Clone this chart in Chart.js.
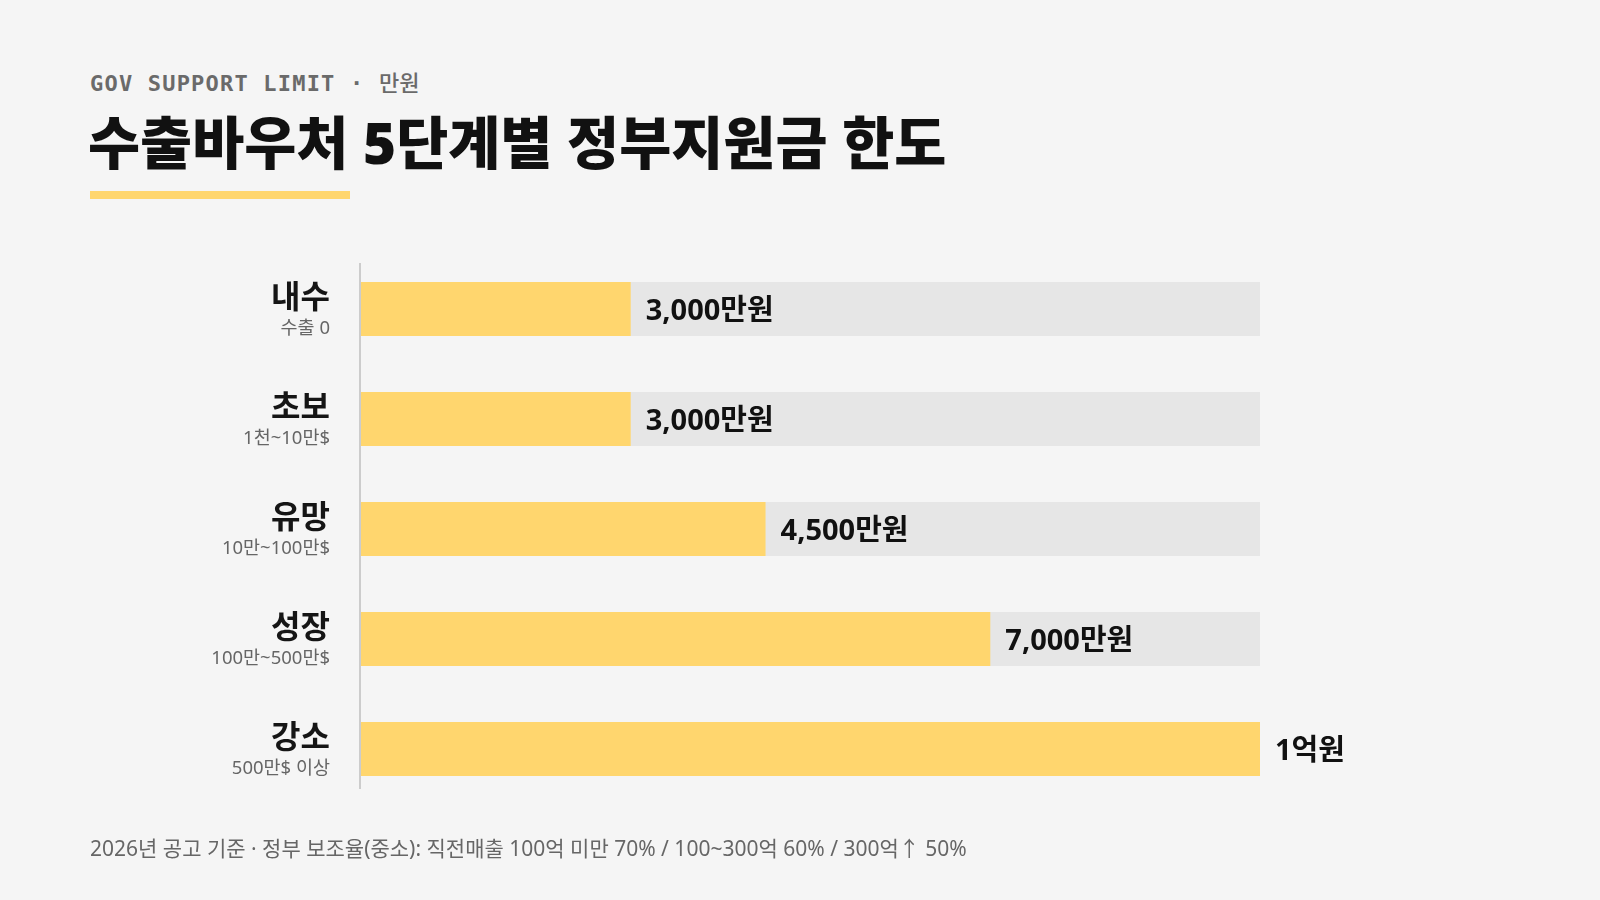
<!DOCTYPE html>
<html lang="ko">
<head>
<meta charset="utf-8">
<script src="https://cdn.jsdelivr.net/npm/chart.js@4.4.1/dist/chart.umd.min.js"></script>
<style>
  html, body { margin:0; padding:0; background:#f5f5f5; }
  body { width:1600px; height:900px; position:relative; overflow:hidden; font-family:"Noto Sans","Noto Sans CJK KR",sans-serif; }
  #eyebrow { position:absolute; left:90px; top:65px; font-family:"DejaVu Sans Mono","Noto Sans CJK KR",monospace; font-weight:700; font-size:22px; letter-spacing:1.2px; color:#6a6a6a; white-space:nowrap; }
  #eyebrow .kr { font-family:"Noto Sans CJK KR",sans-serif; font-weight:500; letter-spacing:0; }
  #title { position:absolute; left:88px; top:106px; font-family:"Noto Sans","Noto Sans CJK KR",sans-serif; font-weight:900; font-size:56.6px; letter-spacing:0; color:#111; white-space:nowrap; line-height:1.3; }
  #rule { position:absolute; left:90px; top:191px; width:260px; height:8px; background:#ffd66e; }
  #foot { position:absolute; left:90px; top:832px; font-family:"Noto Sans","Noto Sans CJK KR",sans-serif; font-size:21px; color:#666; white-space:nowrap; }
  #wrap { position:absolute; left:0; top:0; width:1600px; height:900px; }
</style>
</head>
<body>
<div id="eyebrow">GOV SUPPORT LIMIT · <span class="kr">만원</span></div>
<div id="title">수출바우처 5단계별 정부지원금 한도</div>
<div id="rule"></div>
<div id="wrap"><canvas id="c" width="1600" height="900"></canvas></div>
<div id="foot">2026년 공고 기준 · 정부 보조율(중소): 직전매출 100억 미만 70% / 100~300억 60% / 300억↑ 50%</div>
<script>
const categories = ['내수', '초보', '유망', '성장', '강소'];
const subLabels = ['수출 0', '1천~10만$', '10만~100만$', '100만~500만$', '500만$ 이상'];
const limits = [3000, 3000, 4500, 7000, 10000];
const valueLabels = ['3,000만원', '3,000만원', '4,500만원', '7,000만원', '1억원'];
const trackValues = [10000, 10000, 10000, 10000, 10000];
const axisMax = 10000;

const labelPlugin = {
  id: 'customLabels',
  afterDatasetsDraw(chart) {
    const ctx = chart.ctx;
    const y = chart.scales.y;
    const area = chart.chartArea;
    ctx.save();
    ctx.strokeStyle = '#cccccc';
    ctx.lineWidth = 2;
    ctx.beginPath();
    ctx.moveTo(area.left - 1, area.top + 9);
    ctx.lineTo(area.left - 1, area.bottom - 15);
    ctx.stroke();
    ctx.textAlign = 'right';
    ctx.textBaseline = 'middle';
    categories.forEach((c, i) => {
      const py = y.getPixelForValue(i);
      ctx.fillStyle = '#151515';
      ctx.font = '700 32px "Noto Sans CJK KR"';
      ctx.fillText(c, area.left - 31, py - 13);
      ctx.fillStyle = '#666666';
      ctx.font = '400 18.5px "Noto Sans", "Noto Sans CJK KR"';
      ctx.fillText(subLabels[i], area.left - 31, py + 20);
    });
    const meta = chart.getDatasetMeta(0);
    ctx.textAlign = 'left';
    ctx.fillStyle = '#111111';
    ctx.font = '700 29px "Noto Sans", "Noto Sans CJK KR"';
    meta.data.forEach((bar, i) => {
      ctx.fillText(valueLabels[i], bar.x + 15, bar.y + 3);
    });
    ctx.restore();
  }
};

new Chart(document.getElementById('c'), {
  type: 'bar',
  data: {
    labels: categories,
    datasets: [
      { label: '한도', data: limits, backgroundColor: '#ffd66e', order: 0, grouped: false,
        barPercentage: 0.49, categoryPercentage: 1 },
      { label: 'track', data: trackValues, backgroundColor: '#e6e6e6', order: 1, grouped: false,
        barPercentage: 0.49, categoryPercentage: 1 }
    ]
  },
  options: {
    indexAxis: 'y',
    responsive: false,
    animation: false,
    layout: { padding: { left: 361, right: 340, top: 254, bottom: 96 } },
    plugins: { legend: { display: false }, tooltip: { enabled: false } },
    scales: {
      x: { display: false, min: 0, max: axisMax },
      y: { display: false }
    }
  },
  plugins: [labelPlugin]
});
</script>
</body>
</html>
